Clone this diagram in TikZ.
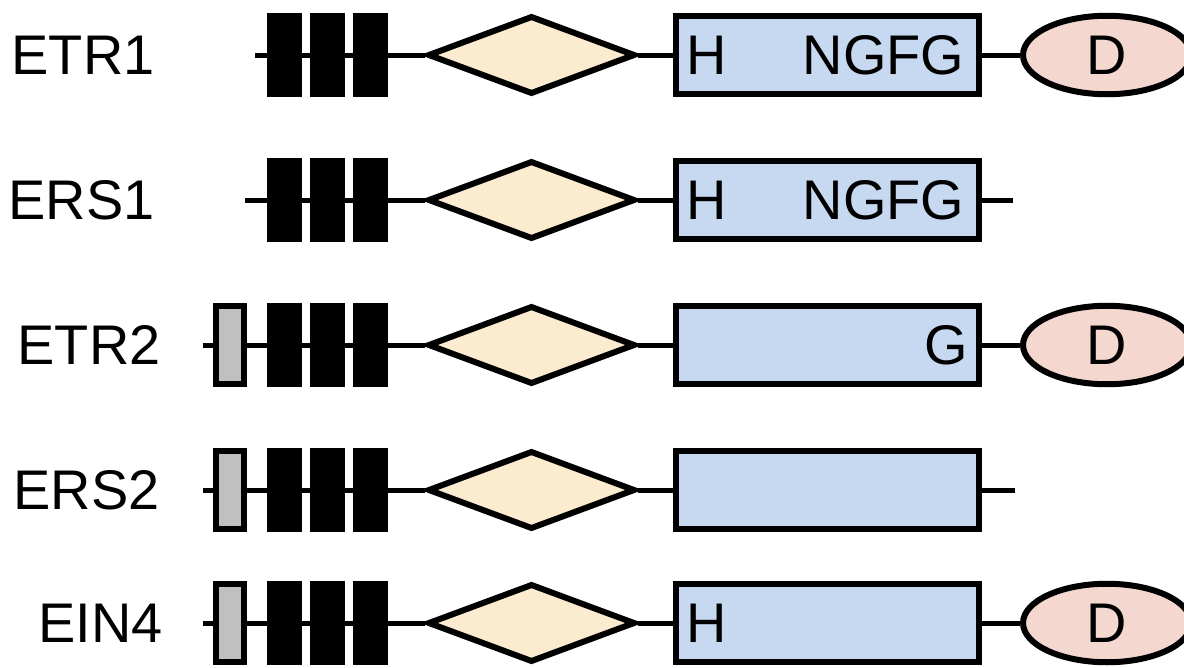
\documentclass[tikz,border=0pt]{standalone}
\usepackage{fontspec}
\setmainfont{Liberation Sans}
\usetikzlibrary{shapes.geometric}

\definecolor{gafcol}{RGB}{251,235,207}
\definecolor{hkcol}{RGB}{198,217,241}
\definecolor{reccol}{RGB}{244,215,206}
\definecolor{gcol}{RGB}{192,192,192}

\begin{document}
\begin{tikzpicture}[x=0.02cm, y=-0.02cm, line width=0.1cm,
  txt/.style={inner sep=0pt, font=\fontsize{31.8pt}{38pt}\selectfont},
  lbl/.style={txt, anchor=east},
  box/.style={draw, line width=0.12cm, inner sep=0pt, minimum height=1.57cm},
  tm/.style={box, fill=black, minimum width=0.6cm},
  sig/.style={box, fill=gcol, minimum width=0.56cm},
  gaf/.style={box, fill=gafcol, diamond, minimum width=4.15cm},
  hk/.style={box, fill=hkcol, minimum width=6.06cm},
  rec/.style={box, txt, fill=reccol, ellipse, minimum width=3.36cm}]
  \useasboundingbox (0,0) rectangle (1184,667);

  % ETR1
  \node[lbl] (etr1) at (157,55) {ETR1};
  \coordinate (s1) at (255,55);
  \node[tm] (a1) at (284.5,55) {};
  \node[tm] (b1) at (327.5,55) {};
  \node[tm] (c1) at (370.5,55) {};
  \node[gaf] (g1) at (531.5,55) {};
  \node[hk] (k1) at (827.5,55) {};
  \node[txt] (h1) at (706.5,55) {H};
  \node[txt] (n1) at (883.5,55) {NGFG};
  \node[rec] (d1) at (1107,55) {D};
  \draw (s1) -- (a1) -- (b1) -- (c1) -- (g1) -- (k1) -- (d1);

  % ERS1
  \node[lbl] (ers1) at (157,200) {ERS1};
  \coordinate (s2) at (245,200);
  \node[tm] (a2) at (284.5,200) {};
  \node[tm] (b2) at (327.5,200) {};
  \node[tm] (c2) at (370.5,200) {};
  \node[gaf] (g2) at (531.5,200) {};
  \node[hk] (k2) at (827.5,200) {};
  \node[txt] (h2) at (706.5,200) {H};
  \node[txt] (n2) at (883.5,200) {NGFG};
  \coordinate (t2) at (1013,200);
  \draw (s2) -- (a2) -- (b2) -- (c2) -- (g2) -- (k2) -- (t2);

  % ETR2
  \node[lbl] (etr2) at (163,345) {ETR2};
  \coordinate (s3) at (203,345);
  \node[sig] (p3) at (230,345) {};
  \node[tm] (a3) at (284.5,345) {};
  \node[tm] (b3) at (327.5,345) {};
  \node[tm] (c3) at (370.5,345) {};
  \node[gaf] (g3) at (531.5,345) {};
  \node[hk] (k3) at (827.5,345) {};
  \node[txt] (n3) at (946.5,345) {G};
  \node[rec] (d3) at (1107,345) {D};
  \draw (s3) -- (p3) -- (a3) -- (b3) -- (c3) -- (g3) -- (k3) -- (d3);

  % ERS2
  \node[lbl] (ers2) at (162,490) {ERS2};
  \coordinate (s4) at (203,490);
  \node[sig] (p4) at (230,490) {};
  \node[tm] (a4) at (284.5,490) {};
  \node[tm] (b4) at (327.5,490) {};
  \node[tm] (c4) at (370.5,490) {};
  \node[gaf] (g4) at (531.5,490) {};
  \node[hk] (k4) at (827.5,490) {};
  \coordinate (t4) at (1015,490);
  \draw (s4) -- (p4) -- (a4) -- (b4) -- (c4) -- (g4) -- (k4) -- (t4);

  % EIN4
  \node[lbl] (ein4) at (165,623) {EIN4};
  \coordinate (s5) at (203,623);
  \node[sig] (p5) at (230,623) {};
  \node[tm] (a5) at (284.5,623) {};
  \node[tm] (b5) at (327.5,623) {};
  \node[tm] (c5) at (370.5,623) {};
  \node[gaf] (g5) at (531.5,623) {};
  \node[hk] (k5) at (827.5,623) {};
  \node[txt] (h5) at (706.5,623) {H};
  \node[rec] (d5) at (1107,623) {D};
  \draw (s5) -- (p5) -- (a5) -- (b5) -- (c5) -- (g5) -- (k5) -- (d5);
\end{tikzpicture}
\end{document}
